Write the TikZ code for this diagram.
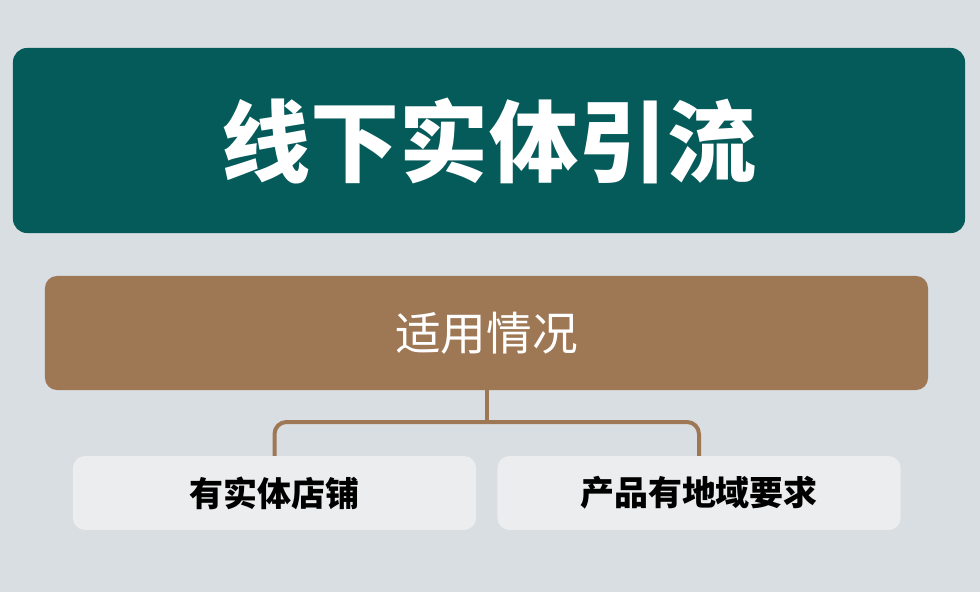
\documentclass[tikz,border=0pt]{standalone}
\usepackage{fontspec}
\newfontfamily\cjk{Noto Sans CJK SC}
\definecolor{bgpanel}{HTML}{D9DEE3}
\definecolor{titleteal}{HTML}{055A5A}
\definecolor{condbrown}{HTML}{9E7755}
\definecolor{itemgray}{HTML}{ECEDEE}
\tikzset{
  titlebox/.style={fill=titleteal,rounded corners=0.42cm,minimum width=28.56cm,minimum height=5.55cm,text=white,font=\cjk\bfseries\fontsize{76}{80}\selectfont},
  condbox/.style={fill=condbrown,rounded corners=0.36cm,minimum width=26.49cm,minimum height=3.42cm,text=white,font=\cjk\fontsize{39}{44}\selectfont},
  itembox/.style={fill=itemgray,rounded corners=0.36cm,minimum width=12.09cm,minimum height=2.22cm,text=black,font=\cjk\bfseries\fontsize{29}{34}\selectfont},
  link/.style={draw=condbrown,line width=0.12cm,rounded corners=0.36cm}
}
\begin{document}
\begin{tikzpicture}[x=0.03cm,y=-0.03cm]
    % background
    \fill[bgpanel] (0,0) rectangle (980,592);
    \useasboundingbox (0,0) rectangle (980,592);

    \node[titlebox] (title) at (489,140.5) {线下实体引流};
    \node[condbox] (cond) at (486.5,333) {适用情况};
    \node[itembox] (shop) at (274.5,493) {有实体店铺};
    \node[itembox] (region) at (699,493) {产品有地域要求};

    \coordinate (fork) at (486.5,422);
    \draw[link] (cond.south) -- (fork);
    \draw[link] (shop.north) |- (fork) -| (region.north);
  \end{tikzpicture}
\end{document}
